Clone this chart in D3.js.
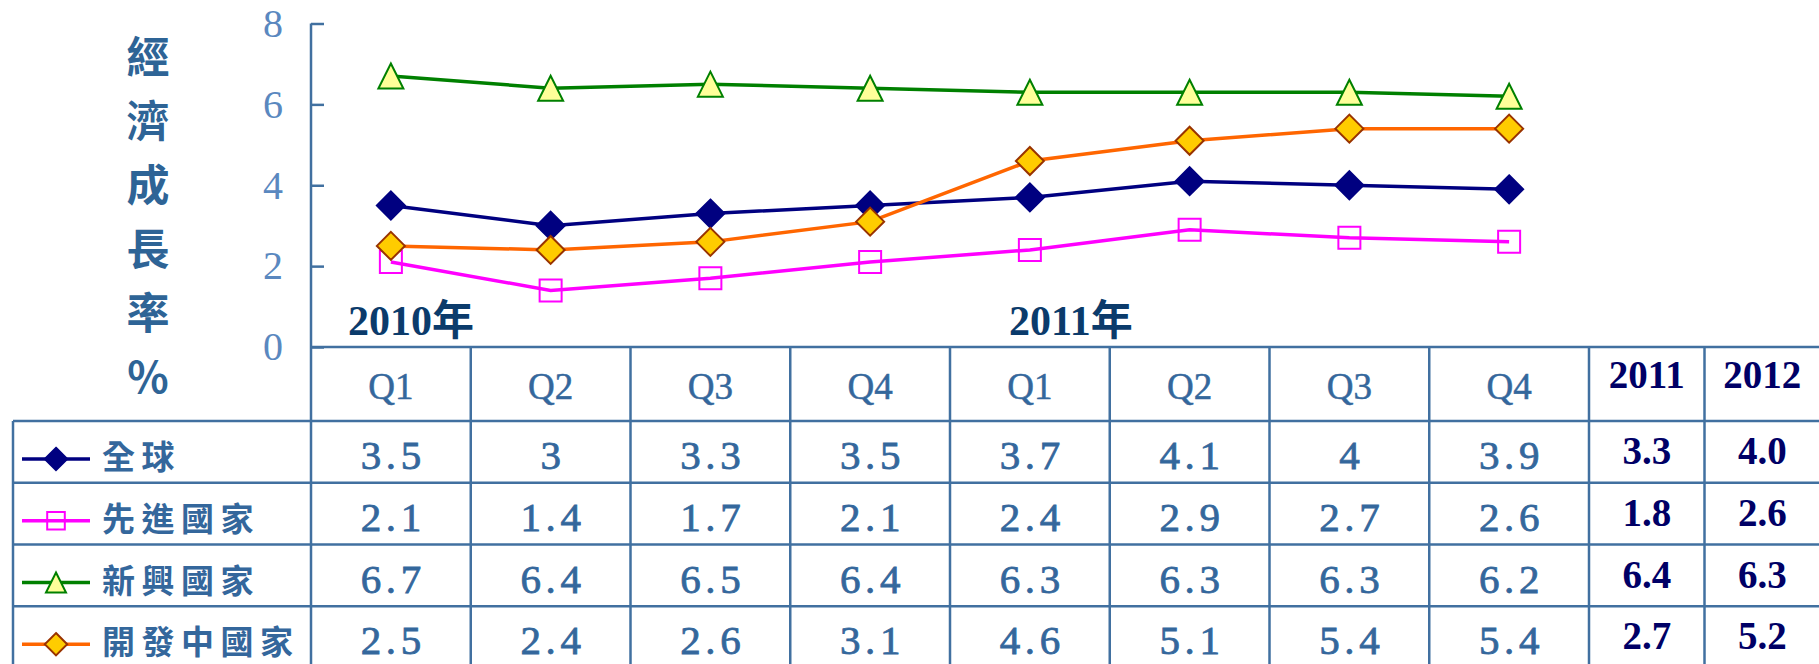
<!DOCTYPE html>
<html>
<head>
<meta charset="utf-8">
<script src="https://cdn.jsdelivr.net/npm/d3@7"></script>
<style>
body { margin: 0; background: #fff; }
</style>
</head>
<body>
<div id="chart-area"></div>
<script>
// quarters shown in the table / on the x axis
var periods = ["2010Q1", "2010Q2", "2010Q3", "2010Q4", "2011Q1", "2011Q2", "2011Q3", "2011Q4"];
var quarterLabels = ["Q1", "Q2", "Q3", "Q4", "Q1", "Q2", "Q3", "Q4"];
var yearTags = ["2010年", "2011年"];

var seriesNames = ["全球", "先進國家", "新興國家", "開發中國家"];
var world = [3.5, 3, 3.3, 3.5, 3.7, 4.1, 4, 3.9];
var advanced = [2.1, 1.4, 1.7, 2.1, 2.4, 2.9, 2.7, 2.6];
var emerging = [6.7, 6.4, 6.5, 6.4, 6.3, 6.3, 6.3, 6.2];
var developing = [2.5, 2.4, 2.6, 3.1, 4.6, 5.1, 5.4, 5.4];

// yearly forecast columns on the right
var annualYears = ["2011", "2012"];
var annual2011 = [3.3, 1.8, 6.4, 2.7];
var annual2012 = [4.0, 2.6, 6.3, 5.2];

var yTicks = [0, 2, 4, 6, 8];
var yTitle = "經濟成長率%";

var width = 1819;
var height = 664;

var blue = "#34679c";
var gridColor = "#4170a0";

var styles = {
	"全球": { line: "#000080", marker: "diamond", fill: "#000080", stroke: "#000080" },
	"先進國家": { line: "#ff00ff", marker: "square", fill: "none", stroke: "#ff00ff" },
	"新興國家": { line: "#008000", marker: "triangle", fill: "#ffff99", stroke: "#008000" },
	"開發中國家": { line: "#ff6600", marker: "diamond", fill: "#ffcc00", stroke: "#993300" }
};

var seriesValues = [world, advanced, emerging, developing];
var series = seriesNames.map(function(name, i){
	return { name: name, values: seriesValues[i], annual: [annual2011[i], annual2012[i]] };
});

var svg = d3.select("#chart-area")
	.append("svg")
	.attr("width", width)
	.attr("height", height);

// Scales
var x = d3.scaleBand()
	.domain(periods)
	.range([311, 1589]);
var xYear = d3.scaleBand()
	.domain(annualYears)
	.range([1589, 1820]);
var y = d3.scaleLinear()
	.domain([0, 8])
	.range([347, 23.5]);
var row = d3.scaleBand()
	.domain(seriesNames)
	.range([421, 668]);

function cx(i){ return x(periods[i]) + x.bandwidth() / 2; }

function markerPath(type, s){
	if (type == "diamond") return "M0," + (-s) + "L" + s + ",0L0," + s + "L" + (-s) + ",0Z";
	if (type == "triangle") return "M0," + (-s) + "L" + s + "," + s + "L" + (-s) + "," + s + "Z";
	return "M" + (-s) + "," + (-s) + "H" + s + "V" + s + "H" + (-s) + "Z";
}
function markerSize(type){
	if (type == "diamond") return 14;
	if (type == "triangle") return 12.5;
	return 11;
}

// Y axis title, one character per line
svg.append("g")
	.selectAll("text")
	.data(yTitle.split(""))
	.join("text")
	.attr("x", 148)
	.attr("y", function(d, i){ return 58 + i * 64; })
	.attr("dy", "0.36em")
	.attr("text-anchor", "middle")
	.attr("font-family", "'Noto Sans CJK TC', 'Liberation Serif'")
	.attr("font-weight", "bold")
	.attr("font-size", 43)
	.attr("fill", "#2e6496")
	.text(function(d){ return d; });

// Y axis
var yAxisCall = d3.axisLeft(y)
	.tickValues(yTicks)
	.tickSizeInner(-13)
	.tickSizeOuter(0)
	.tickPadding(28);
var yAxisGroup = svg.append("g")
	.attr("transform", "translate(311,0)")
	.call(yAxisCall);
yAxisGroup.select(".domain").remove();
yAxisGroup.selectAll(".tick line")
	.attr("stroke", gridColor)
	.attr("stroke-width", 2.5);
yAxisGroup.selectAll(".tick text")
	.attr("font-family", "'Liberation Serif', serif")
	.attr("font-size", 40)
	.attr("fill", "#5a88bf");

// Table grid
var grid = svg.append("g")
	.attr("stroke", gridColor)
	.attr("stroke-width", 2.5);
grid.append("line")
	.attr("x1", 311).attr("x2", 311)
	.attr("y1", y(8)).attr("y2", height);
grid.append("line")
	.attr("x1", 311).attr("x2", 1820)
	.attr("y1", y(0)).attr("y2", y(0));
grid.append("line")
	.attr("x1", 13).attr("x2", 13)
	.attr("y1", row(seriesNames[0])).attr("y2", height);
grid.selectAll(".hrow")
	.data(seriesNames)
	.join("line")
	.attr("x1", 13).attr("x2", 1820)
	.attr("y1", function(d){ return row(d); })
	.attr("y2", function(d){ return row(d); });
grid.selectAll(".vcol")
	.data(periods.slice(1).concat(annualYears))
	.join("line")
	.attr("x1", function(d){ return x(d) !== undefined ? x(d) : xYear(d); })
	.attr("x2", function(d){ return x(d) !== undefined ? x(d) : xYear(d); })
	.attr("y1", y(0))
	.attr("y2", height);

// quarter headers
svg.append("g")
	.selectAll("text")
	.data(periods)
	.join("text")
	.attr("x", function(d, i){ return cx(i); })
	.attr("y", 399)
	.attr("text-anchor", "middle")
	.attr("font-family", "'Liberation Serif', serif")
	.attr("font-size", 37)
	.attr("fill", blue)
	.attr("stroke", blue)
	.attr("stroke-width", 0.5)
	.text(function(d, i){ return quarterLabels[i]; });

// year headers
svg.append("g")
	.selectAll("text")
	.data(annualYears)
	.join("text")
	.attr("x", function(d){ return xYear(d) + xYear.bandwidth() / 2; })
	.attr("y", 388)
	.attr("text-anchor", "middle")
	.attr("font-family", "'Liberation Serif', serif")
	.attr("font-weight", "bold")
	.attr("font-size", 39)
	.attr("fill", "#000066")
	.text(function(d){ return d; });

// 2010年 / 2011年 tags over the plot
svg.append("g")
	.selectAll("text")
	.data(yearTags)
	.join("text")
	.attr("x", function(d, i){ return i == 0 ? x(periods[0]) + 37 : x(periods[4]) + 59; })
	.attr("y", 335)
	.attr("font-family", "'Liberation Serif', 'Noto Sans CJK TC'")
	.attr("font-weight", "bold")
	.attr("font-size", 42)
	.attr("fill", "#0b3b6b")
	.text(function(d){ return d; });

// Table rows
var rows = svg.append("g")
	.selectAll("g")
	.data(series)
	.join("g")
	.attr("transform", function(d){ return "translate(0," + row(d.name) + ")"; });

// legend line + marker in first column
rows.append("line")
	.attr("x1", 22).attr("x2", 90)
	.attr("y1", 38).attr("y2", 38)
	.attr("stroke", function(d){ return styles[d.name].line; })
	.attr("stroke-width", 3.5);
rows.append("path")
	.attr("transform", "translate(56,38)")
	.attr("d", function(d){
		var t = styles[d.name].marker;
		return markerPath(t, markerSize(t) * 0.8);
	})
	.attr("fill", function(d){ return styles[d.name].fill; })
	.attr("stroke", function(d){ return styles[d.name].stroke; })
	.attr("stroke-width", 2);
rows.append("text")
	.attr("x", 102)
	.attr("y", 48)
	.attr("font-family", "'Noto Sans CJK TC'")
	.attr("font-weight", "bold")
	.attr("font-size", 33)
	.attr("letter-spacing", 6.5)
	.attr("fill", blue)
	.text(function(d){ return d.name; });

// quarterly values, monospaced like the original table font
rows.each(function(s){
	var g = d3.select(this);
	s.values.forEach(function(v, i){
		var chars = String(v).split("");
		g.append("text")
			.attr("y", 48)
			.attr("text-anchor", "middle")
			.attr("font-family", "'Liberation Serif', serif")
			.attr("font-size", 41)
			.attr("fill", blue)
			.attr("stroke", blue)
			.attr("stroke-width", 0.8)
			.selectAll("tspan")
			.data(chars)
			.join("tspan")
			.attr("x", function(c, k){ return cx(i) + (k - (chars.length - 1) / 2) * 20; })
			.text(function(c){ return c; });
	});
});

// annual values
rows.selectAll(".annual")
	.data(function(d){ return d.annual; })
	.join("text")
	.attr("x", function(d, i){ return xYear(annualYears[i]) + xYear.bandwidth() / 2; })
	.attr("y", 43)
	.attr("text-anchor", "middle")
	.attr("font-family", "'Liberation Serif', serif")
	.attr("font-weight", "bold")
	.attr("font-size", 39)
	.attr("fill", "#000066")
	.text(function(d){ return d3.format(".1f")(d); });

// Lines and markers
var line = d3.line()
	.x(function(d, i){ return cx(i); })
	.y(function(d){ return y(d); });

series.forEach(function(s){
	var st = styles[s.name];
	var g = svg.append("g");
	g.append("path")
		.attr("d", line(s.values))
		.attr("fill", "none")
		.attr("stroke", st.line)
		.attr("stroke-width", 3.5);
	g.selectAll("path.marker")
		.data(s.values)
		.join("path")
		.attr("class", "marker")
		.attr("transform", function(d, i){ return "translate(" + cx(i) + "," + y(d) + ")"; })
		.attr("d", markerPath(st.marker, markerSize(st.marker)))
		.attr("fill", st.fill)
		.attr("stroke", st.stroke)
		.attr("stroke-width", 2);
});
</script>
</body>
</html>
